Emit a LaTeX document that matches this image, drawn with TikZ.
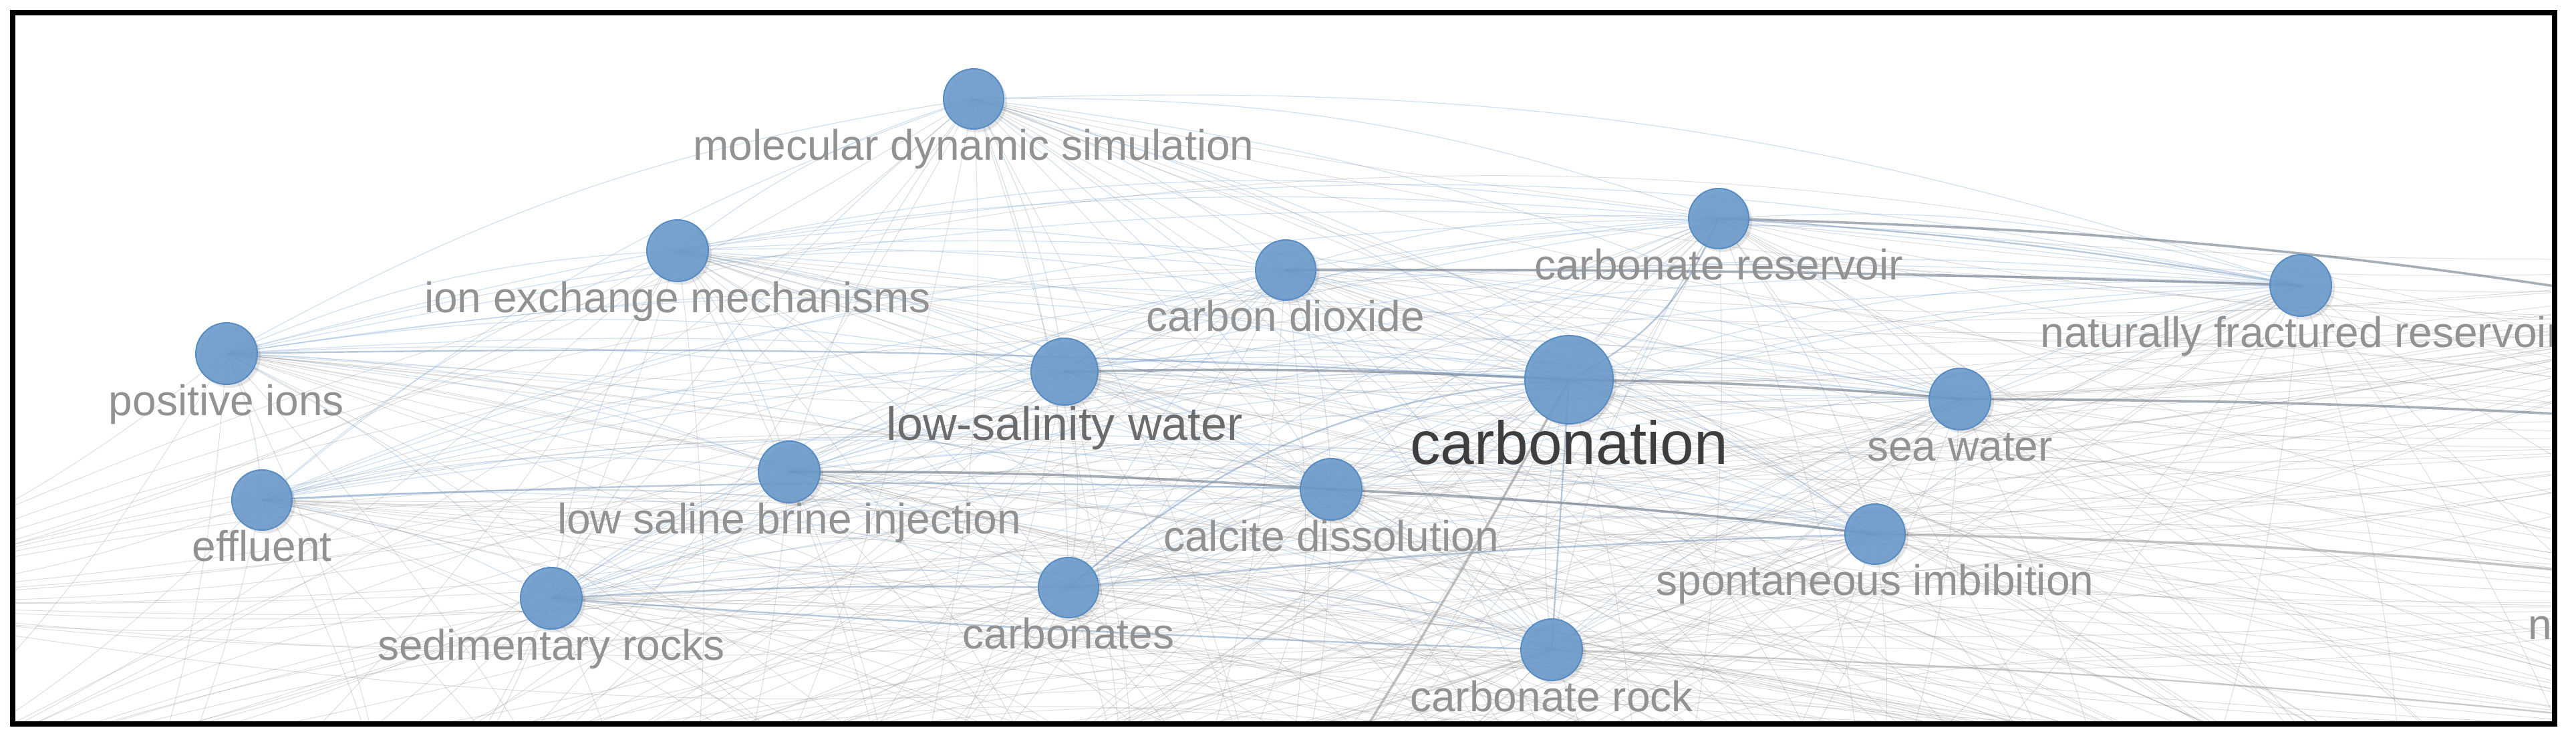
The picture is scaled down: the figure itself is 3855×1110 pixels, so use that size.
\documentclass[tikz,border=0pt]{standalone}
\usepackage{fontspec}
\setmainfont{Liberation Sans}
\usetikzlibrary{shadows}
\pgfdeclarelayer{bg}
\pgfsetlayers{bg,main}
\definecolor{kwfill}{RGB}{106,154,202}
\definecolor{kwdraw}{RGB}{88,140,196}
\definecolor{labgray}{RGB}{146,146,146}
\definecolor{labdark}{RGB}{62,62,62}
\definecolor{labmid}{RGB}{108,108,108}
\definecolor{edgeblue}{RGB}{140,178,220}
\definecolor{edgegray}{RGB}{150,150,150}
\definecolor{strongc}{RGB}{95,108,125}
\tikzset{
  kw/.style={circle, inner sep=0pt, fill=kwfill, fill opacity=0.9, draw=kwdraw, line width=0.2pt,
    drop shadow={shadow xshift=0.5pt, shadow yshift=-0.5pt, opacity=0.10, fill=black}},
  lbl/.style={inner sep=0pt, anchor=north, text=labgray, font=\fontsize{6.4}{7.4}\selectfont,
    text height=4.4pt, text depth=1.56pt},
  bedge/.style={draw=edgeblue, line width=0.12pt, opacity=0.40},
  gedge/.style={draw=edgegray, line width=0.1pt, opacity=0.32},
  sedge/.style={draw=strongc, line width=0.36pt, opacity=0.55},
  medge/.style={draw=edgeblue!70!strongc, line width=0.24pt, opacity=0.55},
}
\begin{document}
\begin{tikzpicture}[x=0.1pt, y=-0.1pt]
\useasboundingbox (0,0) rectangle (3855,1110);
\begin{scope}
\clip (23,23) rectangle (3819,1079);
% keyword nodes
\node[kw, minimum size=9pt]    (mds)  at (1457,148) {};
\node[kw, minimum size=9.2pt]  (iem)  at (1014,375) {};
\node[kw, minimum size=9pt]    (cd)   at (1924,404) {};
\node[kw, minimum size=9pt]    (cr)   at (2572,327) {};
\node[kw, minimum size=9.2pt]  (nfr)  at (3443,427) {};
\node[kw, minimum size=9.2pt]  (pi)   at (339,529) {};
\node[kw, minimum size=10pt]   (lsw)  at (1593,556) {};
\node[kw, minimum size=13.2pt] (cb)   at (2348,568) {};
\node[kw, minimum size=9.2pt]  (sw)   at (2933,597) {};
\node[kw, minimum size=9pt]    (ef)   at (392,748) {};
\node[kw, minimum size=9.2pt]  (lsbi) at (1181,706) {};
\node[kw, minimum size=9.2pt]  (cdis) at (1992,732) {};
\node[kw, minimum size=9pt]    (spi)  at (2806,799) {};
\node[kw, minimum size=9.2pt]  (sr)   at (825,895) {};
\node[kw, minimum size=9pt]    (cbs)  at (1599,879) {};
\node[kw, minimum size=9.2pt]  (crk)  at (2322,972) {};
% labels
\node[lbl] (mdsL)  at (mds.south)  {molecular dynamic simulation};
\node[lbl] (iemL)  at (iem.south)  {ion exchange mechanisms};
\node[lbl] (cdL)   at (cd.south)   {carbon dioxide};
\node[lbl] (crL)   at (cr.south)   {carbonate reservoir};
\node[lbl] (nfrL)  at (nfr.south)  {naturally fractured reservoir};
\node[lbl] (piL)   at (pi.south)   {positive ions};
\node[lbl, text=labmid, font=\fontsize{7}{8}\selectfont, text height=4.95pt, text depth=1.76pt] (lswL) at (lsw.south) {low-salinity water};
\node[lbl, text=labdark, font=\fontsize{9.1}{10.4}\selectfont, text height=5.8pt, text depth=2.24pt] (cbL) at (cb.south) {carbonation};
\node[lbl] (swL)   at (sw.south)   {sea water};
\node[lbl] (efL)   at (ef.south)   {effluent};
\node[lbl] (lsbiL) at (lsbi.south) {low saline brine injection};
\node[lbl] (cdisL) at (cdis.south) {calcite dissolution};
\node[lbl] (spiL)  at (spi.south)  {spontaneous imbibition};
\node[lbl] (srL)   at (sr.south)   {sedimentary rocks};
\node[lbl] (cbsL)  at (cbs.south)  {carbonates};
\node[lbl] (crkL)  at (crk.south)  {carbonate rock};
\node[lbl, anchor=base west, text height=0pt, text depth=0pt] (nL) at (3781,956) {n};
% keywords outside the visible window
\coordinate (b1) at (150,1400);
\coordinate (b2) at (600,1300);
\coordinate (b3) at (1000,1500);
\coordinate (b4) at (1350,1280);
\coordinate (b5) at (1700,1450);
\coordinate (b6) at (1910,1300);
\coordinate (b7) at (2450,1500);
\coordinate (b8) at (2800,1300);
\coordinate (b9) at (3200,1450);
\coordinate (b10) at (3600,1300);
\coordinate (b11) at (3950,1400);
\coordinate (r1) at (4150,1100);
\coordinate (r2) at (4250,900);
\coordinate (r3) at (4300,650);
\coordinate (r4) at (4150,480);
\coordinate (r5) at (4400,380);
\coordinate (l1) at (-300,900);
\coordinate (l2) at (-200,1200);
\end{scope}
\begin{pgfonlayer}{bg}
\begin{scope}
\clip (23,23) rectangle (3819,1079);
% links between visible keywords
\foreach \a [count=\i] in {pi,ef,sr,iem,lsbi,mds,lsw,cbs,cd,cdis,crk,cb,cr,spi,sw,nfr} {
  \foreach \b [count=\j] in {pi,ef,sr,iem,lsbi,mds,lsw,cbs,cd,cdis,crk,cb,cr,spi,sw,nfr} {
    \ifnum\j>\i \draw[bedge] (\a.center) to[bend left=10] (\b.center); \fi
  }
}
% links to keywords outside the window
\foreach \a in {pi,ef,sr,iem,lsbi,mds,lsw,cbs,cd,cdis,crk,cb,cr,spi,sw,nfr} {
  \foreach \b in {b1,b2,b3,b4,b5,b6,b7,b8,b9,b10,b11,l1,l2} {
    \draw[gedge] (\a.center) to[bend left=8] (\b);
  }
  \foreach \b in {r1,r2,r3,r4,r5} {
    \draw[gedge] (\a.center) to[bend right=6] (\b);
  }
}
\foreach \a in {l1,l2,b1,b2,b3,b4,b5} {
  \foreach \b in {b8,b9,b10,b11,r1,r2,r3} {
    \draw[gedge] (\a) to[bend left=22] (\b);
  }
}
% stronger links
\draw[sedge] (lsw.center) to[bend left=2] (cb.center);
\draw[sedge] (cb.center) to[bend left=2] (sw.center);
\draw[sedge] (sw.center) to[bend left=2] (r3);
\draw[sedge] (cd.center) to[bend left=1] (nfr.center);
\draw[sedge] (cr.center) to[bend left=4] (r4);
\draw[medge] (cr.center) to[bend left=3] (nfr.center);
\draw[sedge] (lsbi.center) to[bend left=2] (cdis.center);
\draw[sedge] (cdis.center) to[bend left=2] (spi.center);
\draw[sedge, draw=edgegray] (spi.center) to[bend left=3] (r2);
\draw[medge] (ef.center) to[bend left=2] (cdis.center);
\draw[medge] (pi.center) to[bend left=2] (cb.center);
\draw[medge] (sr.center) to[bend left=2] (cbs.center);
\draw[medge] (cbs.center) to[bend left=2] (spi.center);
\draw[medge] (crk.center) to[bend left=1] (sr.center);
\draw[gedge, line width=0.24pt, opacity=0.5] (crk.center) to[bend left=2] (r1);
\draw[medge] (cb.center) to[bend right=20] (cr.center);
\draw[medge] (cbs.center) to[bend left=18] (cb.center);
\draw[medge] (cb.center) to[bend left=0] (crk.center);
\draw[sedge, draw=edgegray, opacity=0.6] (cb.center) to[bend left=2] (b6);
\end{scope}
\end{pgfonlayer}
% frame
\draw[line width=0.8pt] (19,19) rectangle (3823,1083);
\end{tikzpicture}
\end{document}
